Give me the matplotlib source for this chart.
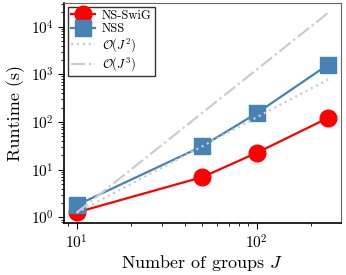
import numpy as np
import matplotlib
matplotlib.use("Agg")
import matplotlib.pyplot as plt

plt.rcParams['font.family'] = 'serif'
plt.rcParams['font.serif'] = ['cmr10', 'DejaVu Serif']
plt.rcParams['mathtext.fontset'] = 'cm'
plt.rcParams['axes.formatter.use_mathtext'] = True
plt.rcParams['axes.unicode_minus'] = False

# data
groups = [10, 50, 100, 250]
ns_swig = [1.27, 7.0, 22.5, 122]
nss = [1.8, 31, 152, 1600]
ref_j2 = [1.25, 31, 125, 780]
ref_j3 = [1.25, 156, 1250, 19500]

fig, ax = plt.subplots(figsize=(3.46, 2.75), dpi=100)

ax.plot(groups, ns_swig, color='#ff0000', marker='o', markersize=12, lw=1.6, label='NS-SwiG')
ax.plot(groups, nss, color='#4682b4', marker='s', markersize=12, lw=1.6, label='NSS')
ax.plot(groups, ref_j2, color='#cccccc', ls=':', lw=1.6, label=r'$\mathcal{O}(J^2)$')
ax.plot(groups, ref_j3, color='#cccccc', ls='-.', lw=1.6, label=r'$\mathcal{O}(J^3)$')

ax.set_xscale('log')
ax.set_yscale('log')
ax.set_xlabel(r'Number of groups $J$', fontsize=13, labelpad=1)
ax.set_ylabel('Runtime (s)', fontsize=13, labelpad=4)
ax.tick_params(axis='both', which='major', labelsize=11, direction='out', length=4)
ax.tick_params(axis='both', which='minor', direction='out', length=2)

for s in ['top', 'right']:
    ax.spines[s].set_color('#666666')
for s in ['left', 'bottom']:
    ax.spines[s].set_color('black')
    ax.spines[s].set_linewidth(1.2)

leg = ax.legend(loc='upper left', fontsize=9, fancybox=False, edgecolor='#333333',
                framealpha=1, borderpad=0.25, labelspacing=0.1, handlelength=1.9,
                handletextpad=0.6, borderaxespad=0.3)

fig.subplots_adjust(left=0.185, right=0.985, top=0.99, bottom=0.19)
fig.savefig('out.png', dpi=100)
